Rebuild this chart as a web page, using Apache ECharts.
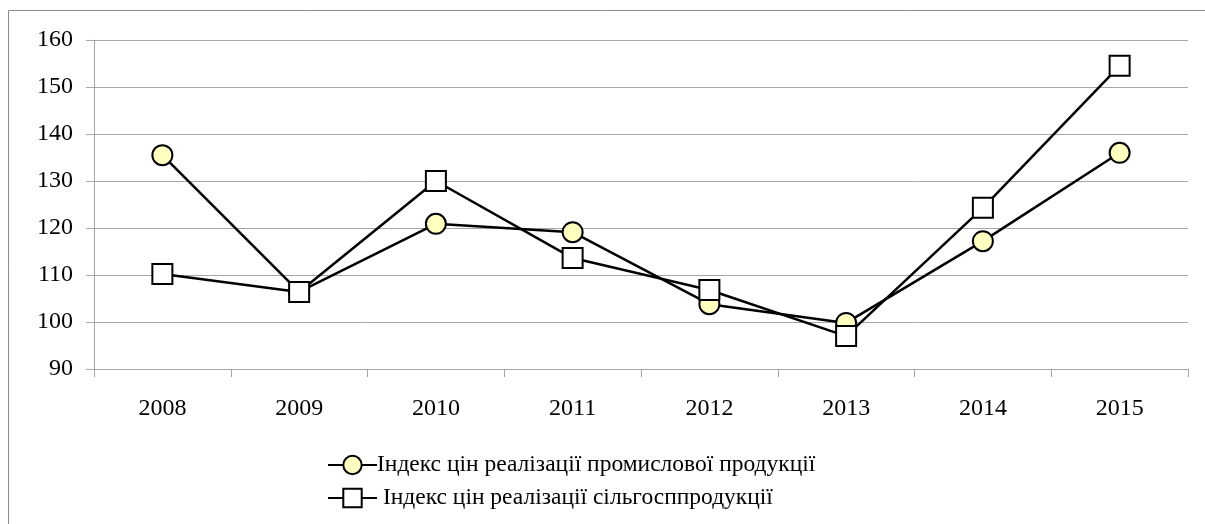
<!DOCTYPE html>
<html><head><meta charset="utf-8">
<script src="https://cdn.jsdelivr.net/npm/echarts@6/dist/echarts.min.js"></script>
<style>html,body{margin:0;padding:0;background:#fff}#c{width:1205px;height:524px}</style>
</head><body><div id="c"></div>
<script>
const categories = ['2008','2009','2010','2011','2012','2013','2014','2015'];
const industrial = [135.5, 106.4, 120.9, 119.1, 103.8, 99.8, 117.2, 136.0];
const agricultural = [110.2, 106.4, 130.0, 113.6, 106.8, 97.0, 124.3, 154.5];
const seriesNames = ['Індекс цін реалізації промислової продукції', ' Індекс цін реалізації сільгосппродукції'];
const yTicks = {min: 90, max: 160, interval: 10};

const chart = echarts.init(document.getElementById('c'));
const font = 'Liberation Serif';
chart.setOption({
  animation: false,
  graphic: [{type:'rect', shape:{x:8.5, y:10.5, width:1300, height:600}, style:{fill:'none', stroke:'#8c8c8c', lineWidth:1}}],
  grid: {left: 94, right: 17, top: 40, bottom: 155},
  xAxis: {
    type: 'category', data: categories, boundaryGap: true,
    axisLine: {lineStyle: {color: '#a6a6a6', width: 1}},
    axisTick: {show: true, length: 8, lineStyle: {color: '#a6a6a6'}},
    axisLabel: {color: '#000', fontFamily: font, fontSize: 24, margin: 28}
  },
  yAxis: {
    type: 'value', min: yTicks.min, max: yTicks.max, interval: yTicks.interval,
    axisLine: {show: true, lineStyle: {color: '#a6a6a6', width: 1}},
    axisTick: {show: true, length: 8, lineStyle: {color: '#a6a6a6'}},
    splitLine: {lineStyle: {color: '#a6a6a6', width: 1}},
    axisLabel: {color: '#000', fontFamily: font, fontSize: 24, margin: 21}
  },
  legend: {
    orient: 'vertical', left: 322, top: 448, itemGap: 9, itemWidth: 49, itemHeight: 23,
    textStyle: {color: '#000', fontFamily: font, fontSize: 23.5, padding: [0,0,0,-5]},
    data: seriesNames
  },
  series: [
    {name: seriesNames[0], type: 'line', data: industrial, symbol: 'circle', symbolSize: 20,
     lineStyle: {color: '#000', width: 2.5}, itemStyle: {color: '#ffffc0', borderColor: '#000', borderWidth: 2}},
    {name: seriesNames[1], type: 'line', data: agricultural, symbol: 'rect', symbolSize: 20,
     lineStyle: {color: '#000', width: 2.5}, itemStyle: {color: '#ffffff', borderColor: '#000', borderWidth: 2}}
  ]
});
</script></body></html>
